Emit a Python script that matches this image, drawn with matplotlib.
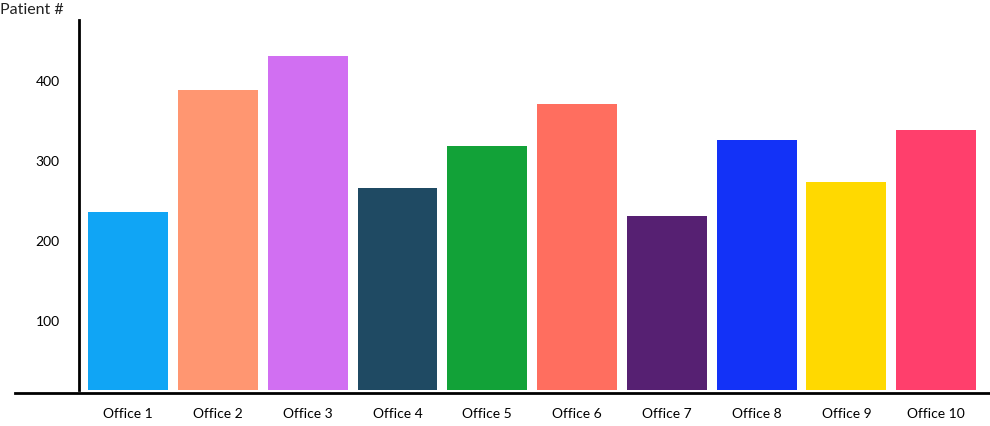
import matplotlib.pyplot as plt
import numpy as np

plt.rcParams['font.family'] = ['Lato', 'DejaVu Sans']

# data
offices = ["Office 1", "Office 2", "Office 3", "Office 4", "Office 5",
           "Office 6", "Office 7", "Office 8", "Office 9", "Office 10"]
patients = [236, 389, 431, 266, 319, 371, 231, 326, 274, 339]
colors = ["#10a5f5", "#ff9671", "#d16ff2", "#1f4a63", "#12a238",
          "#ff6e5f", "#562072", "#1332f7", "#ffd900", "#ff3f6c"]
yticks = [100, 200, 300, 400]

fig = plt.figure(figsize=(9.9, 4.26), dpi=100)
ax = fig.add_axes([15 / 990, 36 / 426, 975 / 990, 370 / 426])

x = np.arange(len(offices))
ax.bar(x, patients, width=0.89, color=colors)

ax.set_xlim(-1.26, 9.6)
ax.set_ylim(13.75, 476)

ax.set_xticks(x)
ax.set_xticklabels(offices, fontsize=11.5, color="#222222")
ax.set_yticks(yticks)
ax.set_yticklabels([str(v) for v in yticks], fontsize=11.5, color="#222222")
ax.tick_params(axis='both', length=0)
ax.tick_params(axis='x', pad=11)
ax.tick_params(axis='y', pad=14)

for s in ['top', 'right']:
    ax.spines[s].set_visible(False)
ax.spines['left'].set_position(('data', -0.546))
ax.spines['left'].set_linewidth(2)
ax.spines['bottom'].set_position(('outward', 2))
ax.spines['bottom'].set_linewidth(2)

fig.text(0.0, 1 - 10 / 426, "Patient #", fontsize=11.5, color="#222222",
         ha='left', va='center')

plt.savefig("out.png", dpi=100)
